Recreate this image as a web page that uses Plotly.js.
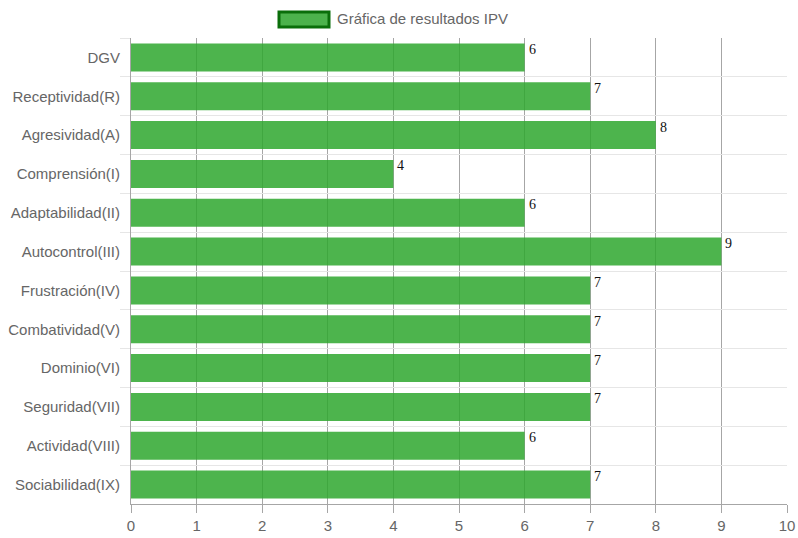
<!DOCTYPE html>
<html>
<head>
<meta charset="utf-8">
<script src="https://cdn.plot.ly/plotly-3.0.1.min.js"></script>
<style>html,body{margin:0;padding:0;background:#fff}#chart{width:798px;height:538px}</style>
</head>
<body>
<div id="chart"></div>
<script>
const categories = ["DGV","Receptividad(R)","Agresividad(A)","Comprensión(I)","Adaptabilidad(II)","Autocontrol(III)","Frustración(IV)","Combatividad(V)","Dominio(VI)","Seguridad(VII)","Actividad(VIII)","Sociabilidad(IX)"];
const values = [6,7,8,4,6,9,7,7,7,7,6,7];
const seriesName = "Gráfica de resultados IPV";
const xTicks = [0,1,2,3,4,5,6,7,8,9,10];

const trace = {
  type: 'bar',
  orientation: 'h',
  x: values,
  y: categories,
  name: seriesName,
  marker: {color: 'rgba(46,167,46,0.85)', line: {width: 0}},
  hoverinfo: 'x+y',
  showlegend: false
};

const annotations = values.map((v, i) => ({
  x: v, y: categories[i], xref: 'x', yref: 'y',
  text: String(v), showarrow: false,
  xanchor: 'left', yanchor: 'middle', xshift: 2, yshift: 8,
  font: {family: 'Liberation Serif, Times New Roman, serif', size: 14, color: '#111'}
}));
annotations.push({
  xref: 'paper', yref: 'paper', x: (335-131)/656, y: 1 + (38-19)/466,
  text: seriesName, showarrow: false, xanchor: 'left', yanchor: 'middle',
  font: {family: 'Liberation Sans, Arial, sans-serif', size: 15, color: '#666'}
});

const layout = {
  width: 798, height: 538,
  margin: {l: 131, r: 11, t: 38, b: 34},
  paper_bgcolor: '#fff', plot_bgcolor: '#fff',
  bargap: 0.28,
  font: {family: 'Liberation Sans, Arial, sans-serif', size: 15, color: '#666'},
  xaxis: {
    range: [0, 10], tickvals: xTicks, ticktext: xTicks.map(String),
    showgrid: true, gridcolor: '#a6a6a6', gridwidth: 1,
    zeroline: false, showline: true, linecolor: '#a6a6a6', linewidth: 1,
    ticks: 'outside', ticklen: 8, tickcolor: '#a6a6a6',
    tickfont: {size: 15, color: '#666'}, fixedrange: true
  },
  yaxis: {
    autorange: 'reversed', type: 'category', tickson: 'boundaries',
    showgrid: true, gridcolor: '#e6e6e6', gridwidth: 1,
    showline: true, linecolor: '#a6a6a6', linewidth: 1,
    ticks: 'outside', ticklen: 10, tickcolor: '#e6e6e6',
    ticklabelstandoff: 7,
    tickfont: {size: 15, color: '#666'}, fixedrange: true
  },
  shapes: [{
    type: 'rect', xref: 'paper', yref: 'paper',
    x0: (279-131)/656, x1: (329-131)/656,
    y0: 1 + (38-27)/466, y1: 1 + (38-12)/466,
    fillcolor: 'rgba(76,178,76,1)', line: {color: '#0a6e0a', width: 3}
  }],
  annotations: annotations
};

Plotly.newPlot('chart', [trace], layout, {displayModeBar: false});
</script>
</body>
</html>
